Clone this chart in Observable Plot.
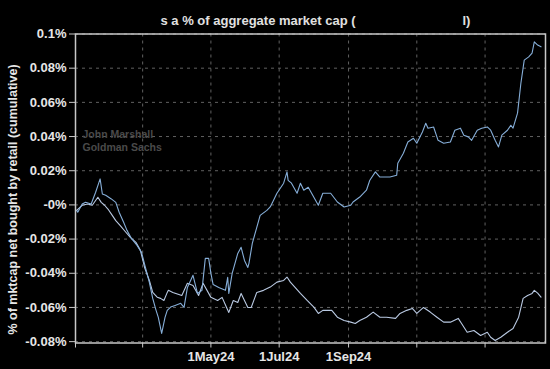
<!DOCTYPE html>
<html>
<head>
<meta charset="utf-8">
<script src="https://cdn.jsdelivr.net/npm/d3@7"></script>
<script src="https://cdn.jsdelivr.net/npm/@observablehq/plot@0.6"></script>
<style>
  html, body { margin: 0; padding: 0; background: #000; }
  #chart { width: 550px; height: 369px; overflow: hidden; }
</style>
</head>
<body>
<div id="chart"></div>
<script>
// ---- Data (values in %) ----
const datesA = ["2024-01-02","2024-01-03","2024-01-07","2024-01-10","2024-01-15","2024-01-19","2024-01-23","2024-01-25","2024-01-28","2024-02-02","2024-02-06","2024-02-09","2024-02-13","2024-02-16","2024-02-20","2024-02-25","2024-02-29","2024-03-03","2024-03-07","2024-03-10","2024-03-13","2024-03-15","2024-03-18","2024-03-21","2024-03-23","2024-03-26","2024-03-30","2024-04-04","2024-04-07","2024-04-10","2024-04-15","2024-04-19","2024-04-23","2024-04-26","2024-04-29","2024-05-01","2024-05-03","2024-05-08","2024-05-14","2024-05-16","2024-05-17","2024-05-20","2024-05-25","2024-05-28","2024-05-31","2024-06-03","2024-06-04","2024-06-07","2024-06-11","2024-06-14","2024-06-20","2024-06-23","2024-06-26","2024-06-29","2024-07-05","2024-07-08","2024-07-09","2024-07-12","2024-07-17","2024-07-20","2024-07-23","2024-07-27","2024-08-01","2024-08-05","2024-08-09","2024-08-16","2024-08-22","2024-08-28","2024-09-03","2024-09-05","2024-09-11","2024-09-17","2024-09-20","2024-09-25","2024-09-29","2024-10-08","2024-10-14","2024-10-15","2024-10-20","2024-10-24","2024-10-29","2024-11-01","2024-11-06","2024-11-09","2024-11-11","2024-11-16","2024-11-20","2024-11-25","2024-12-01","2024-12-05","2024-12-10","2024-12-13","2024-12-17","2024-12-20","2024-12-25","2024-12-29","2025-01-03","2025-01-06","2025-01-10","2025-01-13","2025-01-16","2025-01-21","2025-01-24","2025-01-26","2025-01-30","2025-02-02","2025-02-05","2025-02-09","2025-02-12","2025-02-14","2025-02-17","2025-02-20"];
const valuesA = [-0.0032,-0.0043,0.0005,0.0015,0.0005,0.0074,0.0152,0.0064,0.0056,0.0035,0.0015,-0.0043,-0.0102,-0.0149,-0.0196,-0.0237,-0.0278,-0.0354,-0.0453,-0.0547,-0.0617,-0.0658,-0.0752,-0.0658,-0.0617,-0.0598,-0.0588,-0.0576,-0.0600,-0.0483,-0.0412,-0.0518,-0.0500,-0.0313,-0.0313,-0.0401,-0.0466,-0.0483,-0.0500,-0.0424,-0.0518,-0.0401,-0.0284,-0.0248,-0.0325,-0.0366,-0.0342,-0.0225,-0.0131,-0.0061,-0.0032,-0.0012,0.0027,0.0068,0.0127,0.0193,0.0144,0.0127,0.0068,0.0127,0.0086,0.0103,0.0045,-0.0002,0.0068,0.0068,0.0017,-0.0012,-0.0002,0.0017,0.0046,0.0086,0.0144,0.0193,0.0163,0.0163,0.0173,0.0244,0.0302,0.0368,0.0390,0.0361,0.0427,0.0478,0.0449,0.0456,0.0378,0.0361,0.0368,0.0437,0.0449,0.0408,0.0398,0.0378,0.0437,0.0449,0.0456,0.0437,0.0378,0.0339,0.0408,0.0437,0.0466,0.0449,0.0537,0.0712,0.0847,0.0866,0.0888,0.0954,0.0935,0.0925];

const datesB = ["2024-01-02","2024-01-04","2024-01-07","2024-01-12","2024-01-16","2024-01-21","2024-01-24","2024-01-27","2024-01-30","2024-02-03","2024-02-06","2024-02-10","2024-02-15","2024-02-19","2024-02-24","2024-02-28","2024-03-03","2024-03-07","2024-03-10","2024-03-14","2024-03-17","2024-03-20","2024-03-23","2024-03-24","2024-03-28","2024-04-05","2024-04-10","2024-04-15","2024-04-20","2024-04-24","2024-05-01","2024-05-07","2024-05-11","2024-05-15","2024-05-17","2024-05-21","2024-05-25","2024-05-28","2024-05-31","2024-06-03","2024-06-06","2024-06-11","2024-06-17","2024-06-23","2024-06-29","2024-07-05","2024-07-08","2024-07-11","2024-07-15","2024-07-20","2024-07-26","2024-08-01","2024-08-05","2024-08-09","2024-08-17","2024-08-22","2024-08-28","2024-09-03","2024-09-07","2024-09-11","2024-09-17","2024-09-23","2024-09-29","2024-10-05","2024-10-13","2024-10-17","2024-10-23","2024-10-28","2024-11-01","2024-11-07","2024-11-13","2024-11-19","2024-11-25","2024-12-01","2024-12-08","2024-12-11","2024-12-16","2024-12-22","2024-12-28","2025-01-03","2025-01-06","2025-01-10","2025-01-15","2025-01-21","2025-01-26","2025-01-31","2025-02-04","2025-02-08","2025-02-12","2025-02-14","2025-02-17","2025-02-20"];
const valuesB = [-0.0032,-0.0020,-0.0002,0.0005,-0.0002,0.0045,0.0015,-0.0002,-0.0024,-0.0063,-0.0092,-0.0121,-0.0160,-0.0190,-0.0219,-0.0266,-0.0371,-0.0442,-0.0512,-0.0540,-0.0547,-0.0559,-0.0512,-0.0500,-0.0512,-0.0530,-0.0459,-0.0471,-0.0530,-0.0459,-0.0541,-0.0559,-0.0541,-0.0600,-0.0629,-0.0559,-0.0571,-0.0518,-0.0559,-0.0600,-0.0600,-0.0512,-0.0500,-0.0481,-0.0452,-0.0442,-0.0422,-0.0452,-0.0481,-0.0518,-0.0559,-0.0598,-0.0635,-0.0617,-0.0617,-0.0657,-0.0676,-0.0686,-0.0694,-0.0676,-0.0657,-0.0627,-0.0657,-0.0657,-0.0664,-0.0635,-0.0617,-0.0606,-0.0635,-0.0600,-0.0627,-0.0657,-0.0686,-0.0686,-0.0664,-0.0694,-0.0745,-0.0735,-0.0764,-0.0745,-0.0774,-0.0793,-0.0774,-0.0745,-0.0723,-0.0657,-0.0547,-0.0530,-0.0518,-0.0500,-0.0516,-0.0540];

const yTicks = [-0.08, -0.06, -0.04, -0.02, 0, 0.02, 0.04, 0.06, 0.08, 0.1];
const yTickLabels = ["-0.08%", "-0.06%", "-0.04%", "-0.02%", "-0%", "0.02%", "0.04%", "0.06%", "0.08%", "0.1%"];
const xTicks = ["2024-01-01","2024-03-01","2024-05-01","2024-07-01","2024-09-01","2024-11-01","2025-01-01"];
const xTickLabels = ["", "", "1May24", "1Jul24", "1Sep24", "", ""];

const titleLeft = "s a % of aggregate market cap (";
const titleRight = "l)";
const yLabel = "% of mktcap net bought by retail (cumulative)";
const watermark = "John Marshall\nGoldman Sachs";

// ---- Build ----
const parse = d3.utcParse("%Y-%m-%d");
const seriesA = datesA.map((d, i) => ({date: parse(d), value: valuesA[i]}));
const seriesB = datesB.map((d, i) => ({date: parse(d), value: valuesB[i]}));
const xTickDates = xTicks.map(parse);
const xLabelMap = new Map(xTickDates.map((d, i) => [+d, xTickLabels[i]]));
const yLabelMap = new Map(yTicks.map((v, i) => [v, yTickLabels[i]]));

const font = "'Liberation Sans', Arial, sans-serif";

const chart = Plot.plot({
  width: 550,
  height: 369,
  marginLeft: 75,
  marginRight: 5,
  marginTop: 33.5,
  marginBottom: 26.5,
  style: {background: "#000", color: "#e6e6e6", fontFamily: font, fontSize: "13px", fontWeight: "bold"},
  x: {type: "utc", domain: [parse("2024-01-01"), parse("2025-02-24")]},
  y: {domain: [-0.0808, 0.1]},
  marks: [
    Plot.gridX(xTickDates, {stroke: "#8a8a8a", strokeOpacity: 0.7, strokeDasharray: "3,4", strokeWidth: 1}),
    Plot.gridY(yTicks, {stroke: "#8a8a8a", strokeOpacity: 0.7, strokeDasharray: "3,4", strokeWidth: 1}),
    Plot.text([watermark], {frameAnchor: "top-left", textAnchor: "start", lineAnchor: "top", dx: 7, dy: 95, fill: "#4a4a4a", fontSize: 10.5, fontWeight: "bold", lineHeight: 1.2}),
    Plot.line(seriesB, {x: "date", y: "value", stroke: "#b9c9e2", strokeWidth: 1.1}),
    Plot.line(seriesA, {x: "date", y: "value", stroke: "#86aed8", strokeWidth: 1.1}),
    Plot.frame({stroke: "#c8c8c8", strokeWidth: 1.5}),
    Plot.axisY(yTicks, {tickSize: 6, tickPadding: 3, stroke: "#c8c8c8", fill: "#e6e6e6", fontSize: 13, fontWeight: "bold", tickFormat: v => yLabelMap.get(v), label: null}),
    Plot.axisX(xTickDates, {tickSize: 5, tickPadding: 4, stroke: "#c8c8c8", fill: "#e6e6e6", fontSize: 13, fontWeight: "bold", tickFormat: d => xLabelMap.get(+d), label: null}),
    Plot.text([yLabel], {frameAnchor: "left", textAnchor: "middle", rotate: -90, dx: -63, dy: 11, fill: "#e6e6e6", fontSize: 12.5, fontWeight: "bold"}),
    Plot.text([titleLeft], {frameAnchor: "top-left", textAnchor: "start", dx: 85, dy: -18.5, fill: "#e0e0e0", fontSize: 13, fontWeight: "bold"}),
    Plot.text([titleRight], {frameAnchor: "top-left", textAnchor: "start", dx: 387, dy: -18.5, fill: "#e0e0e0", fontSize: 13, fontWeight: "bold"})
  ]
});
document.getElementById("chart").appendChild(chart);
</script>
</body>
</html>
